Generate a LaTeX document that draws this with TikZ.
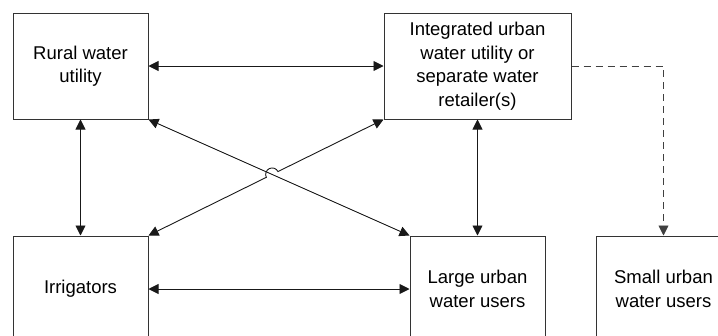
\documentclass[tikz,border=0pt]{standalone}
\usepackage{fontspec}
\setmainfont{Liberation Sans}
\usetikzlibrary{arrows.meta,calc,intersections}
\begin{document}
\begin{tikzpicture}[x=1pt,y=-1pt,
  box/.style={draw=black!80,line width=1pt,minimum height=106pt,inner sep=0pt,align=center,
    font=\fontsize{18.5}{23.5}\selectfont},
  conn/.style={line width=0.9pt,black!90,{Triangle[length=10pt,width=10pt]}-{Triangle[length=10pt,width=10pt]}},
  dconn/.style={line width=0.9pt,black!75,dash pattern=on 7pt off 5pt,-{Triangle[length=10pt,width=10pt]}}]
\fill[white] (0,0) rectangle (718,335);
\useasboundingbox (0,0) rectangle (718,335);
\clip (0,0) rectangle (718,335);
\node[box,minimum width=135pt] (rural) at (80.5,66) {Rural water\\utility};
\node[box,minimum width=187pt] (integ) at (477.5,66) {Integrated urban\\water utility or\\separate water\\retailer(s)};
\node[box,minimum width=135pt] (irrig) at (80.5,289) {Irrigators};
\node[box,minimum width=135pt] (large) at (477.5,289) {Large urban\\water users};
\node[box,minimum width=135pt] (small) at (663.5,289) {Small urban\\water users};
\draw[conn] (rural.east) -- (integ.west);
\draw[conn] (rural.south) -- (irrig.north);
\draw[conn] (integ.south) -- (large.north);
\draw[conn] (irrig.east) -- (large.west);
\path[name path=p1] (rural.south east) -- (large.north west);
\path[name path=p2] (irrig.north east) -- (integ.south west);
\path[name intersections={of=p1 and p2, by=X}];
\draw[conn] (rural.south east) -- (large.north west);
\draw[conn] (irrig.north east) -- ($(X)!6.5pt!(irrig.north east)$)
  arc[start angle=206.4,end angle=26.4,radius=6.5pt] -- (integ.south west);
\draw[dconn] (integ.east) -| (small.north);
\end{tikzpicture}
\end{document}
